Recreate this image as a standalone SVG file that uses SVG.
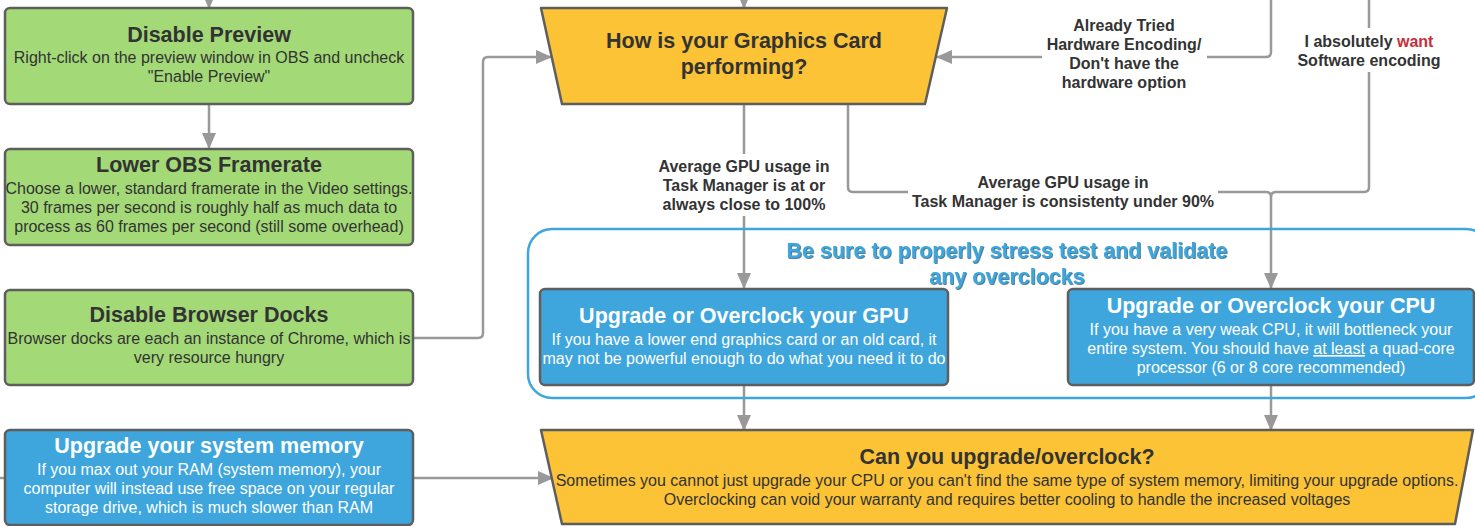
<svg xmlns="http://www.w3.org/2000/svg" width="1475" height="526" viewBox="0 0 1475 526">
<defs>
<marker id="arr" markerWidth="16" markerHeight="14" refX="15" refY="7" orient="auto" markerUnits="userSpaceOnUse">
<path d="M0,0 L16,7 L0,14 Z" fill="#999999"/>
</marker>
<filter id="sh" x="-5%" y="-20%" width="110%" height="140%">
<feDropShadow dx="0.8" dy="0.8" stdDeviation="0.5" flood-color="#1d4e6b" flood-opacity="0.9"/>
</filter>
<style>
.green{fill:#a3d977;stroke:#5e5e5e;stroke-width:2.5}
.blue{fill:#3ea6dd;stroke:#5e5e5e;stroke-width:2.5}
.yellow{fill:#fbc335;stroke:#5e5e5e;stroke-width:2.5;stroke-linejoin:round}
.t{font-family:"Liberation Sans",Arial,sans-serif;text-anchor:middle}
.h{font-weight:bold;font-size:21.5px;fill:#333333}
.b{font-size:16px;fill:#333333}
.hw{font-weight:bold;font-size:21.5px;fill:#ffffff}
.bw{font-size:16px;fill:#ffffff}
.lbl{font-weight:bold;font-size:16px;fill:#333333}
.con{fill:none;stroke:#999999;stroke-width:2.5;stroke-linejoin:round}
</style>
</defs>
<rect width="1475" height="526" fill="#ffffff"/>

<g id="connectors">
<path class="con" d="M209,-10 L209,8" marker-end="url(#arr)"/>
<path class="con" d="M209,104 L209,148" marker-end="url(#arr)"/>
<path class="con" d="M744,-10 L744,8" marker-end="url(#arr)"/>
<path class="con" d="M413,338 L478,338 Q483,338 483,333 L483,62 Q483,57 488,57 L551,57" marker-end="url(#arr)"/>
<path class="con" d="M1271,0 L1271,52 Q1271,57 1266,57 L937,57" marker-end="url(#arr)"/>
<path class="con" d="M1369,0 L1369,187 Q1369,192 1364,192 L1276,192 Q1271,192 1271,197 L1271,288" marker-end="url(#arr)"/>
<path class="con" d="M848,104 L848,187 Q848,192 853,192 L1266,192 Q1271,192 1271,197"/>
<path class="con" d="M744,104 L744,288" marker-end="url(#arr)"/>
<path class="con" d="M744,385 L744,430" marker-end="url(#arr)"/>
<path class="con" d="M1271,385 L1271,430" marker-end="url(#arr)"/>
<path class="con" d="M413,478 L553,478" marker-end="url(#arr)"/>
<path class="con" d="M-5,478 L5,478"/>
</g>

<g id="label-already">
<rect x="1042" y="14" width="165" height="80" fill="#ffffff"/>
<text class="t lbl" x="1124" y="31">Already Tried</text>
<text class="t lbl" x="1124" y="50">Hardware Encoding/</text>
<text class="t lbl" x="1124" y="69">Don't have the</text>
<text class="t lbl" x="1124" y="88">hardware option</text>
</g>
<g id="label-software">
<rect x="1294" y="28" width="150" height="44" fill="#ffffff"/>
<text class="t lbl" x="1369" y="47">I absolutely <tspan fill="#c92d39">want</tspan></text>
<text class="t lbl" x="1369" y="66">Software encoding</text>
</g>
<g id="label-gpu100">
<rect x="654" y="154" width="180" height="62" fill="#ffffff"/>
<text class="t lbl" x="744" y="172">Average GPU usage in</text>
<text class="t lbl" x="744" y="191">Task Manager is at or</text>
<text class="t lbl" x="744" y="210">always close to 100%</text>
</g>
<g id="label-gpu90">
<rect x="908" y="172" width="310" height="40" fill="#ffffff"/>
<text class="t lbl" x="1063" y="188">Average GPU usage in</text>
<text class="t lbl" x="1063" y="207">Task Manager is consistenty under 90%</text>
</g>

<g id="container-stress">
<rect x="528" y="229" width="962" height="169" rx="24" fill="none" stroke="#3ea6dd" stroke-width="2.5"/>
<text class="t" x="1007" y="258" font-weight="bold" font-size="21.5px" fill="#3ea6dd" filter="url(#sh)">Be sure to properly stress test and validate</text>
<text class="t" x="1007" y="284" font-weight="bold" font-size="21.5px" fill="#3ea6dd" filter="url(#sh)">any overclocks</text>
</g>

<g id="node-disable-preview">
<rect class="green" x="5" y="8" width="408" height="96" rx="5"/>
<text class="t h" x="209" y="42">Disable Preview</text>
<text class="t b" x="209" y="63">Right-click on the preview window in OBS and uncheck</text>
<text class="t b" x="209" y="82">"Enable Preview"</text>
</g>
<g id="node-lower-framerate">
<rect class="green" x="5" y="149" width="408" height="96" rx="5"/>
<text class="t h" x="209" y="172">Lower OBS Framerate</text>
<text class="t b" x="209" y="194">Choose a lower, standard framerate in the Video settings.</text>
<text class="t b" x="209" y="213">30 frames per second is roughly half as much data to</text>
<text class="t b" x="209" y="232">process as 60 frames per second (still some overhead)</text>
</g>
<g id="node-browser-docks">
<rect class="green" x="5" y="290" width="408" height="95" rx="5"/>
<text class="t h" x="209" y="322">Disable Browser Docks</text>
<text class="t b" x="209" y="344">Browser docks are each an instance of Chrome, which is</text>
<text class="t b" x="209" y="363">very resource hungry</text>
</g>
<g id="node-memory">
<rect class="blue" x="5" y="430" width="408" height="95" rx="5"/>
<text class="t hw" x="209" y="453">Upgrade your system memory</text>
<text class="t bw" x="209" y="475">If you max out your RAM (system memory), your</text>
<text class="t bw" x="209" y="494">computer will instead use free space on your regular</text>
<text class="t bw" x="209" y="513">storage drive, which is much slower than RAM</text>
</g>
<g id="node-graphics-q">
<path class="yellow" d="M541,8 L947,8 L925,104 L562,104 Z"/>
<text class="t h" x="744" y="48">How is your Graphics Card</text>
<text class="t h" x="744" y="74">performing?</text>
</g>
<g id="node-gpu">
<rect class="blue" x="540" y="289" width="408" height="96" rx="5"/>
<text class="t hw" x="744" y="323">Upgrade or Overclock your GPU</text>
<text class="t bw" x="744" y="345">If you have a lower end graphics card or an old card, it</text>
<text class="t bw" x="744" y="364">may not be powerful enough to do what you need it to do</text>
</g>
<g id="node-cpu">
<rect class="blue" x="1068" y="289" width="406" height="96" rx="5"/>
<text class="t hw" x="1271" y="313">Upgrade or Overclock your CPU</text>
<text class="t bw" x="1271" y="335">If you have a very weak CPU, it will bottleneck your</text>
<text class="t bw" x="1271" y="354">entire system. You should have <tspan text-decoration="underline">at least</tspan> a quad-core</text>
<text class="t bw" x="1271" y="373">processor (6 or 8 core recommended)</text>
</g>
<g id="node-upgrade-q">
<path class="yellow" d="M541,430 L1473,430 L1455,524 L562,524 Z"/>
<text class="t h" x="1007" y="464">Can you upgrade/overclock?</text>
<text class="t b" x="1007" y="486">Sometimes you cannot just upgrade your CPU or you can't find the same type of system memory, limiting your upgrade options.</text>
<text class="t b" x="1007" y="505">Overclocking can void your warranty and requires better cooling to handle the increased voltages</text>
</g>
</svg>
